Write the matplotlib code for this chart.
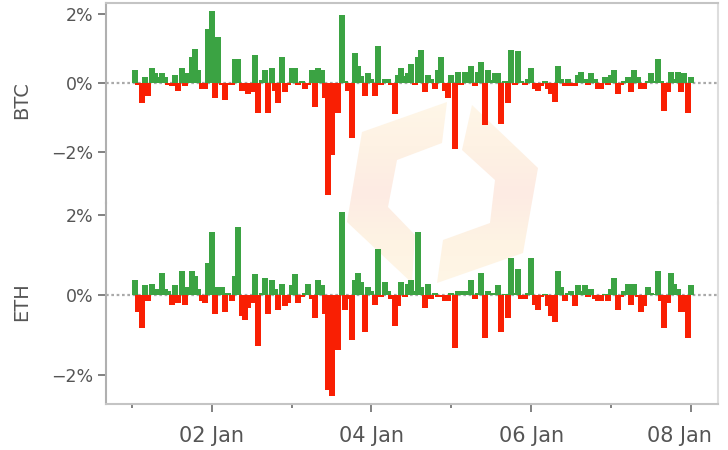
import numpy as np
import pandas as pd
import matplotlib
matplotlib.use("Agg")
import matplotlib.pyplot as plt
import matplotlib.dates as mdates
import matplotlib.transforms as mtransforms
from matplotlib.patches import Polygon
from matplotlib.colors import LinearSegmentedColormap
from matplotlib.ticker import FuncFormatter

# hourly returns in %, 1 Jan - 7 Jan
start = "2022-01-01 01:00"
n_hours = 168

btc = [
    0.38, -0.05, -0.57, 0.17, -0.37, 0.43, 0.29, 0.17, 0.29, 0.17, -0.05, -0.10,
    0.23, -0.22, 0.43, -0.10, 0.29, 0.75, 1.00, 0.38, -0.17, -0.17, 1.57, 2.10,
    -0.43, 1.34, -0.05, -0.49, -0.05, -0.05, 0.70, 0.70, -0.22, -0.10, -0.31, -0.25,
    0.82, -0.86, 0.10, 0.38, -0.86, 0.43, -0.22, -0.57, 0.75, -0.25, -0.05, 0.43,
    0.43, -0.05, 0.05, -0.17, -0.05, 0.38, -0.69, 0.43, 0.38, -0.43, -3.25, -2.10,
    -0.86, -0.86, 1.97, 0.06, -0.22, -1.59, 0.87, 0.49, 0.20, -0.37, 0.29, 0.12,
    -0.37, 1.07, -0.05, 0.12, 0.12, -0.05, -0.89, 0.23, 0.43, 0.20, 0.29, 0.55,
    -0.05, 0.75, 0.96, -0.25, 0.23, 0.12, -0.17, 0.38, 0.75, -0.22, -0.43, 0.23,
    -1.90, 0.32, -0.05, 0.32, 0.17, 0.49, -0.10, 0.32, 0.61, -1.21, 0.38, 0.10,
    0.29, 0.29, -1.18, 0.06, -0.57, 0.96, -0.05, 0.93, 0.05, -0.05, 0.12, 0.43,
    -0.17, -0.22, -0.10, 0.06, -0.17, -0.31, -0.54, 0.49, 0.12, -0.10, 0.12, -0.10,
    -0.10, 0.23, 0.32, 0.12, -0.05, 0.29, 0.12, -0.17, -0.17, 0.17, -0.05, 0.23,
    0.38, -0.31, -0.05, 0.06, 0.17, -0.25, 0.38, 0.17, -0.17, -0.17, 0.06, 0.29,
    0.06, 0.70, 0.06, -0.80, -0.25, 0.32, 0.12, 0.32, -0.25, 0.29, -0.86, 0.17,
]

eth = [
    0.375, -0.42, -0.82, 0.25, -0.14, 0.275, 0.15, 0.15, 0.55, 0.15, 0.10, -0.24,
    0.25, -0.19, 0.60, -0.24, 0.20, 0.60, 0.475, 0.15, -0.14, -0.19, 0.80, 1.58,
    -0.47, 0.20, 0.20, -0.42, 0.05, -0.14, 0.475, 1.70, -0.54, -0.64, -0.32, -0.19,
    0.525, -1.29, 0.05, 0.425, -0.47, 0.375, 0.15, -0.37, 0.275, -0.27, -0.19, 0.25,
    0.525, -0.19, -0.04, 0.05, 0.275, -0.09, -0.59, 0.375, 0.25, -0.47, -2.39, -2.52,
    -1.37, -1.37, 2.08, -0.37, -0.10, -1.14, 0.375, 0.55, 0.325, -0.92, 0.20, 0.10,
    -0.24, 1.15, -0.04, 0.325, 0.10, -0.09, -0.79, -0.27, 0.325, -0.04, 0.275, 0.375,
    0.10, 1.58, 0.20, -0.32, 0.275, -0.09, 0.05, -0.04, -0.04, -0.14, -0.14, 0.05,
    -1.34, 0.10, 0.10, 0.10, 0.10, 0.375, -0.09, 0.05, 0.55, -1.09, 0.10, 0.04,
    0.04, 0.25, -0.92, 0.02, -0.59, 0.925, 0.05, 0.65, -0.09, -0.09, 0.05, 0.925,
    -0.24, -0.37, -0.04, 0.02, -0.27, -0.54, -0.69, 0.60, 0.20, -0.14, 0.05, 0.10,
    -0.27, 0.25, 0.10, 0.25, -0.04, 0.15, -0.09, -0.14, -0.14, 0.02, -0.14, 0.15,
    0.425, -0.37, -0.04, 0.10, 0.275, -0.24, 0.275, -0.04, -0.42, -0.27, 0.20, 0.05,
    0.02, 0.60, -0.14, -0.82, -0.19, 0.55, 0.275, 0.15, -0.42, -0.42, -1.09, 0.25,
]

coins = ["BTC", "ETH"]
series = [btc, eth]
ylims = [(-3.48, 2.32), (-2.73, 2.30)]
yticks = [-2, 0, 2]

GREEN = "#3ba343"
RED = "#f91f03"
TXT = "#555555"

times = pd.date_range(start, periods=n_hours, freq="h")

fig = plt.figure(figsize=(7.28, 4.5), dpi=100, facecolor="white")

# watermark logo in pixel coordinates, behind the charts
bg = fig.add_axes([0, 0, 1, 1], zorder=0)
bg.set_xlim(0, 728)
bg.set_ylim(450, 0)
bg.axis("off")
logo_cmap = LinearSegmentedColormap.from_list(
    "logo", ["#fff7e8", "#fef2e4", "#fdebe3", "#fef3e3", "#fff6e6"])
grad = np.linspace(0, 1, 200).reshape(-1, 1)
left_piece = [(362, 132), (447, 102), (442, 143), (397, 160), (388, 207),
              (415, 235), (412, 283), (347, 222)]
right_piece = [(472, 105), (538, 168), (523, 253), (437, 283), (443, 240),
               (490, 223), (495, 180), (462, 150)]
for piece in [left_piece, right_piece]:
    poly = Polygon(piece, closed=True, facecolor="none", edgecolor="none")
    bg.add_patch(poly)
    im = bg.imshow(grad, cmap=logo_cmap, extent=(340, 545, 288, 98),
                   aspect="auto", interpolation="bilinear")
    im.set_clip_path(poly)

pct = FuncFormatter(lambda v, p: f"{v:.0f}%".replace("-", "\u2212"))

boxes = [[0.1456, 0.5489, 0.8407, 0.4444], [0.1456, 0.1022, 0.8407, 0.4467]]
label_y = [0.778, 0.329]
axes = []
for i, coin in enumerate(coins):
    ax = fig.add_axes(boxes[i], zorder=1)
    ax.set_facecolor("none")
    vals = np.array(series[i])
    colors = np.where(vals >= 0, GREEN, RED)
    ax.axhline(0, color="#aaaaaa", lw=1.6, ls=(0, (1.2, 1.2)), zorder=0.5)
    ax.bar(times, vals, width=1.8 / 24, color=colors, linewidth=0, zorder=2)
    ax.set_ylim(*ylims[i])
    ax.set_yticks(yticks)
    ax.yaxis.set_major_formatter(pct)
    ax.tick_params(axis="y", labelsize=12.5, labelcolor=TXT, color="#777777",
                   length=6, width=1.3, pad=3)
    for s in ax.spines.values():
        s.set_color("#c4c4c4")
        s.set_linewidth(1.5)
    ax.spines["left"].set_color("#b0b0b0")
    ax.spines["right"].set_color("#dddddd")
    fig.text(0.030, label_y[i], coin, rotation=90, ha="center", va="center",
             fontsize=14, color=TXT)
    axes.append(ax)

top, bot = axes
top.spines["bottom"].set_visible(False)
bot.spines["top"].set_visible(False)
top.tick_params(axis="x", which="both", bottom=False, labelbottom=False)

x0 = pd.Timestamp("2022-01-01") - pd.Timedelta(hours=7.75)
x1 = pd.Timestamp("2022-01-01") + pd.Timedelta(hours=176.1)
for ax in axes:
    ax.set_xlim(x0, x1)
    ax.xaxis.set_major_locator(mdates.DayLocator(bymonthday=[2, 4, 6, 8]))
    ax.xaxis.set_minor_locator(mdates.DayLocator(bymonthday=[1, 3, 5, 7]))
    ax.xaxis.set_major_formatter(mdates.DateFormatter("%d %b"))
bot.tick_params(axis="x", which="major", labelsize=15, labelcolor=TXT,
                color="#777777", length=6, width=1.3, pad=10)
bot.tick_params(axis="x", which="minor", color="#777777", length=3, width=1.3)

# last date label is pushed left so it stays inside the frame
fig.canvas.draw()
last = bot.get_xticklabels()[-1]
last.set_transform(last.get_transform() +
                   mtransforms.ScaledTranslation(-12 / 100, 0, fig.dpi_scale_trans))

fig.savefig("out.png", dpi=100, facecolor="white")
